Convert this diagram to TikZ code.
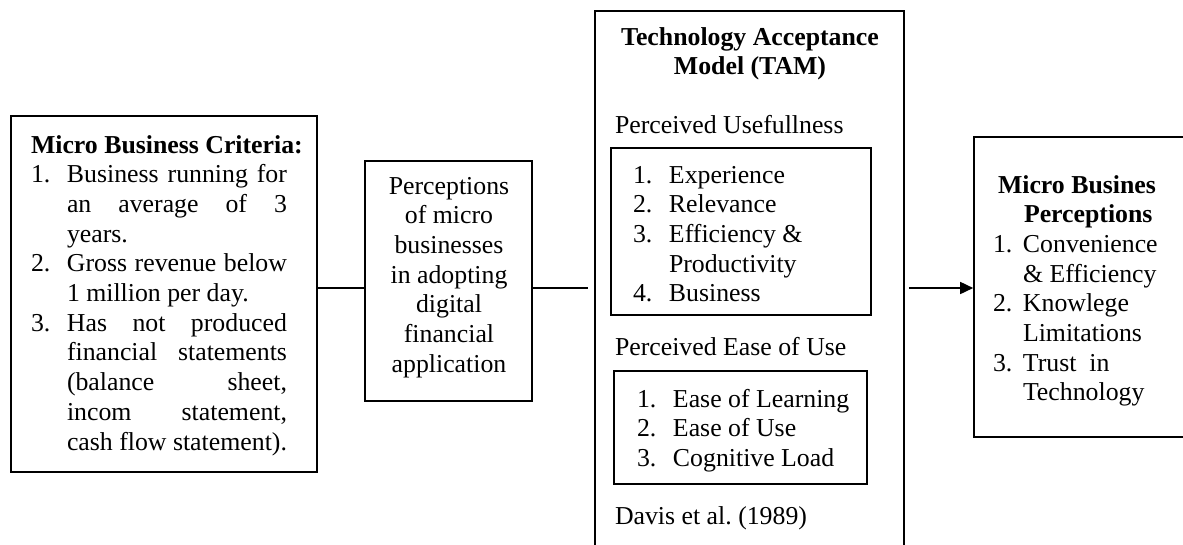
\documentclass[tikz,border=0pt]{standalone}
\usepackage{fontspec}
\setmainfont{Liberation Serif}
\usetikzlibrary{arrows.meta}

% one line of a numbered list: number column, then the text
\newcommand\numline[3][36pt]{\hbox{\makebox[#1][l]{#2}#3}}
% a line centred on the reference point
\newcommand\ctrline[1]{\hbox to 0pt{\hss#1\hss}}
% a justified line of the given width
\newcommand\just[2][220pt]{\makebox[#1][s]{#2}}

\begin{document}
\begin{tikzpicture}[x=1pt,y=-1pt,
  every node/.style={font=\fontsize{25.8}{29.7}\selectfont},
  box/.style={draw, rectangle, line width=1.6pt, inner sep=0pt},
  txt/.style={inner sep=0pt, outer sep=0pt, anchor=base west},
  conn/.style={line width=1.6pt}]
\useasboundingbox (0,0) rectangle (1183,544);
\clip (0,0) rectangle (1183,544);

% frames
\node[box, minimum width=306pt, minimum height=356pt] (crit) at (164,294) {};
\node[box, minimum width=167pt, minimum height=240pt] (perc) at (448.5,281) {};
\node[box, minimum width=309pt, minimum height=559pt] (tam) at (749.5,290.5) {};
\node[box, minimum width=260pt, minimum height=167pt] (pu) at (741,231.5) {};
\node[box, minimum width=253pt, minimum height=113pt] (peou) at (740.5,427.5) {};
\node[box, minimum width=226pt, minimum height=300pt] (mbp) at (1087,287) {};

% micro business criteria
\node[txt] (critText) at (31,153) {\vtop{%
  \hbox{\bfseries Micro Business Criteria:}
  \numline{1.}{\just{Business running for}}
  \numline{}{\just{an average of 3}}
  \numline{}{years.}
  \numline{2.}{\just{Gross revenue below}}
  \numline{}{1 million per day.}
  \numline{3.}{\just{Has not produced}}
  \numline{}{\just{financial statements}}
  \numline{}{\just{(balance sheet,}}
  \numline{}{\just{incom statement,}}
  \numline{}{cash flow statement).}}};

% perceptions
\node[txt] (percText) at (448.5,194) {\vtop{%
  \ctrline{Perceptions}
  \ctrline{of micro}
  \ctrline{businesses}
  \ctrline{in adopting}
  \ctrline{digital}
  \ctrline{financial}
  \ctrline{application}}};

% technology acceptance model
\node[txt] (tamTitle) at (749.5,45) {\vtop{\bfseries
  \ctrline{Technology Acceptance}
  \ctrline{Model (TAM)}}};
\node[txt] (puHead) at (615,133) {Perceived Usefullness};
\node[txt] (puList) at (633,183) {\vtop{%
  \numline{1.}{Experience}
  \numline{2.}{Relevance}
  \numline{3.}{Efficiency \&}
  \numline{}{Productivity}
  \numline{4.}{Business}}};
\node[txt] (peouHead) at (615,355) {Perceived Ease of Use};
\node[txt] (peouList) at (637,407) {\vtop{%
  \numline{1.}{Ease of Learning}
  \numline{2.}{Ease of Use}
  \numline{3.}{Cognitive Load}}};
\node[txt] (davis) at (615,524) {Davis et al.\ (1989)};

% micro business perceptions
\node[txt] (mbpText) at (993,193) {\vtop{%
  \hbox{\hspace*{5pt}\bfseries Micro Busines}
  \hbox{\hspace*{31pt}\bfseries Perceptions}
  \numline[30pt]{1.}{Convenience}
  \numline[30pt]{}{\& Efficiency}
  \numline[30pt]{2.}{Knowlege}
  \numline[30pt]{}{Limitations}
  \numline[30pt]{3.}{Trust\ \ in}
  \numline[30pt]{}{Technology}}};

% connectors
\coordinate (lv) at (0,288);
\draw[conn] (crit.east |- lv) -- (perc.west |- lv);
\draw[conn, shorten >=6pt] (perc.east |- lv) -- (tam.west |- lv);
\draw[conn, shorten <=4pt, -{Triangle[length=13pt,width=12pt]}]
  (tam.east |- lv) -- (mbp.west |- lv);
\end{tikzpicture}
\end{document}
